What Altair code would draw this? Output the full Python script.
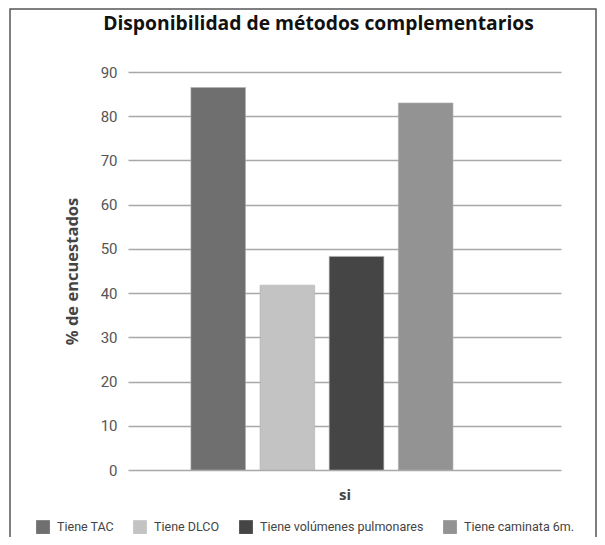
import altair as alt
import pandas as pd

metodos = ["Tiene TAC", "Tiene DLCO", "Tiene volúmenes pulmonares", "Tiene caminata 6m."]
valores = [86.5, 41.8, 48.3, 83.0]
colores = ["#6f6f6f", "#c3c3c3", "#454545", "#939393"]
y_ticks = [0, 10, 20, 30, 40, 50, 60, 70, 80, 90]
grupo = ["si"] * len(metodos)

df = pd.DataFrame({"metodo": metodos, "valor": valores, "grupo": grupo})

LIGHT = "Roboto, Noto Sans, sans-serif"
BOLD = "Open Sans, Noto Sans, sans-serif"

W, H = 433, 398

frame = alt.Chart(pd.DataFrame({"a": [0]})).mark_rect(
    fill=None, stroke="#555555", strokeWidth=1.5, clip=False
).encode(
    x=alt.value(-118), x2=alt.value(468), y=alt.value(-63), y2=alt.value(470)
)

bars = alt.Chart(df).mark_bar(stroke="#b0b0b0", strokeWidth=0.6).encode(
    x=alt.X(
        "grupo:N",
        scale=alt.Scale(paddingInner=0, paddingOuter=0.326, align=0.368),
        axis=alt.Axis(
            labels=False, ticks=False, domain=False, title="si",
            titleFont=BOLD, titleFontSize=15, titleFontWeight="bold",
            titleColor="#444444", titlePadding=17,
        ),
    ),
    xOffset=alt.XOffset(
        "metodo:N", sort=metodos,
        scale=alt.Scale(paddingInner=0.21, paddingOuter=0),
    ),
    y=alt.Y(
        "valor:Q",
        scale=alt.Scale(domain=[0, 90], nice=False),
        axis=alt.Axis(
            values=y_ticks, ticks=False, domain=False, grid=True,
            gridColor="#a8a8a8", gridWidth=1.5,
            labelFont=LIGHT, labelFontSize=15, labelFontWeight="normal",
            labelColor="#555555", labelPadding=11, title="% de encuestados",
            titleFont=BOLD, titleFontSize=16.5, titleFontWeight="bold",
            titleColor="#444444", titlePadding=20,
        ),
    ),
    color=alt.Color(
        "metodo:N",
        sort=metodos,
        scale=alt.Scale(domain=metodos, range=colores),
        legend=alt.Legend(
            title=None, orient="none", direction="horizontal",
            legendX=-92, legendY=448,
            symbolType="square", symbolSize=190, symbolStrokeWidth=0,
            labelFont=LIGHT, labelFontSize=12.5, labelColor="#444444",
            labelLimit=400, columnPadding=19, labelOffset=7,
        ),
    ),
)

chart = alt.layer(frame, bars).properties(
    width=W, height=H,
    title=alt.Title(
        "Disponibilidad de métodos complementarios",
        font=BOLD, fontSize=19.3, fontWeight="bold", color="#111111",
        anchor="middle", dx=-26, offset=0, dy=26,
    ),
    autosize=alt.AutoSizeParams(type="none"),
    padding={"left": 120, "top": 64, "right": 36, "bottom": 67},
).configure_view(stroke=None).configure_axis(gridOpacity=1)

chart.save("out.html", embed_options={"renderer": "svg", "actions": False})
